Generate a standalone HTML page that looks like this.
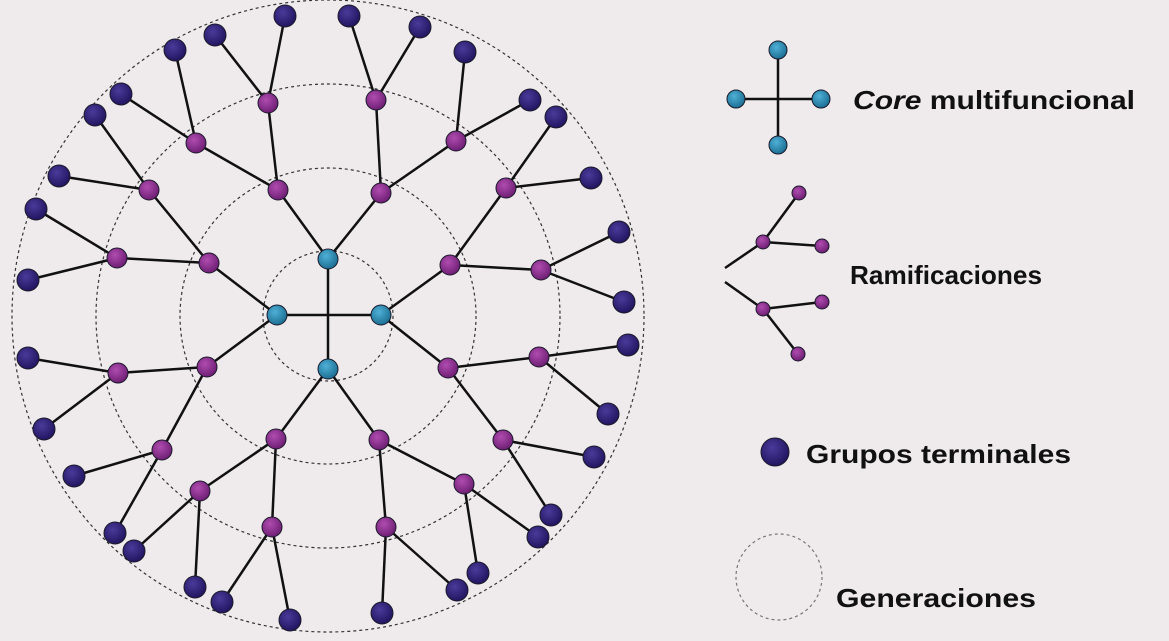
<!DOCTYPE html>
<html><head><meta charset="utf-8"><style>
html,body{margin:0;padding:0;background:#efebed;}
svg{display:block}
text{font-family:"Liberation Sans",Arial,sans-serif;font-weight:bold;fill:#111;}
</style></head><body>
<svg width="1169" height="641" viewBox="0 0 1169 641" xmlns="http://www.w3.org/2000/svg">
<defs>
<radialGradient id="gb" cx="40%" cy="35%" r="65%"><stop offset="0" stop-color="#4fb0d6"/><stop offset="1" stop-color="#1d6f94"/></radialGradient>
<radialGradient id="gp" cx="40%" cy="35%" r="65%"><stop offset="0" stop-color="#b04cb0"/><stop offset="1" stop-color="#6e1f74"/></radialGradient>
<radialGradient id="gd" cx="40%" cy="35%" r="65%"><stop offset="0" stop-color="#4a3a9a"/><stop offset="1" stop-color="#221560"/></radialGradient>
</defs>
<g fill="none" stroke="#333" stroke-width="1.2" stroke-dasharray="3,3">
<circle cx="328" cy="316" r="65"/>
<circle cx="328" cy="316" r="148"/>
<circle cx="328" cy="316" r="232"/>
<circle cx="328" cy="316" r="316"/>
<circle cx="779" cy="577" r="43" stroke="#777"/>
</g>
<g stroke="#111" stroke-width="2.5" fill="none">
<path d="M328 259L328 369M277 315L381 315"/>
<path d="M328 259L278 190M328 259L381 193M381 315L450 265M381 315L448 368M328 369L379 440M328 369L276 439M277 315L207 367M277 315L209 263"/>
<path d="M278 190L268 103M278 190L196 143M381 193L376 100M381 193L456 141M450 265L506 188M450 265L541 270M448 368L539 357M448 368L503 440M379 440L464 484M379 440L386 527M276 439L272 527M276 439L200 491M207 367L162 450M207 367L118 373M209 263L117 258M209 263L149 190"/>
<path d="M268 103L215 35M268 103L285 16M376 100L349 16M376 100L420 27M456 141L465 52M456 141L530 100M506 188L556 117M506 188L591 178M541 270L619 232M541 270L624 302M539 357L628 345M539 357L608 414M503 440L594 457M503 440L551 515M464 484L538 537M464 484L478 573M386 527L457 590M386 527L382 613M272 527L290 620M272 527L222 602M200 491L195 587M200 491L134 551M162 450L115 533M162 450L74 476M118 373L44 429M118 373L28 358M117 258L28 280M117 258L36 209M149 190L59 176M149 190L95 115M196 143L121 94M196 143L175 50"/>
<path d="M778 50L778 145M736 99L821 99"/>
<path d="M725 268L763 242M725 282L763 309M763 242L799 193M763 242L822 246M763 309L822 302M763 309L798 354"/>
</g>
<g stroke="#1a1a2a" stroke-width="1">
<g fill="url(#gb)">
<circle cx="328" cy="259" r="10"/><circle cx="277" cy="315" r="10"/><circle cx="381" cy="315" r="10"/><circle cx="328" cy="369" r="10"/>
<circle cx="778" cy="50" r="9"/><circle cx="736" cy="99" r="9"/><circle cx="821" cy="99" r="9"/><circle cx="778" cy="145" r="9"/>
</g>
<g fill="url(#gp)">
<circle cx="278" cy="190" r="10"/><circle cx="381" cy="193" r="10"/><circle cx="450" cy="265" r="10"/><circle cx="448" cy="368" r="10"/><circle cx="379" cy="440" r="10"/><circle cx="276" cy="439" r="10"/><circle cx="207" cy="367" r="10"/><circle cx="209" cy="263" r="10"/>
<circle cx="268" cy="103" r="10"/><circle cx="376" cy="100" r="10"/><circle cx="456" cy="141" r="10"/><circle cx="506" cy="188" r="10"/><circle cx="541" cy="270" r="10"/><circle cx="539" cy="357" r="10"/><circle cx="503" cy="440" r="10"/><circle cx="464" cy="484" r="10"/><circle cx="386" cy="527" r="10"/><circle cx="272" cy="527" r="10"/><circle cx="200" cy="491" r="10"/><circle cx="162" cy="450" r="10"/><circle cx="118" cy="373" r="10"/><circle cx="117" cy="258" r="10"/><circle cx="149" cy="190" r="10"/><circle cx="196" cy="143" r="10"/>
<circle cx="763" cy="242" r="7"/><circle cx="763" cy="309" r="7"/><circle cx="799" cy="193" r="7"/><circle cx="822" cy="246" r="7"/><circle cx="822" cy="302" r="7"/><circle cx="798" cy="354" r="7"/>
</g>
<g fill="url(#gd)">
<circle cx="175" cy="50" r="11"/><circle cx="215" cy="35" r="11"/><circle cx="285" cy="16" r="11"/><circle cx="349" cy="16" r="11"/><circle cx="420" cy="27" r="11"/><circle cx="465" cy="52" r="11"/><circle cx="530" cy="100" r="11"/><circle cx="556" cy="117" r="11"/><circle cx="591" cy="178" r="11"/><circle cx="619" cy="232" r="11"/><circle cx="624" cy="302" r="11"/><circle cx="628" cy="345" r="11"/><circle cx="608" cy="414" r="11"/><circle cx="594" cy="457" r="11"/><circle cx="551" cy="515" r="11"/><circle cx="538" cy="537" r="11"/><circle cx="478" cy="573" r="11"/><circle cx="457" cy="590" r="11"/><circle cx="382" cy="613" r="11"/><circle cx="290" cy="620" r="11"/><circle cx="222" cy="602" r="11"/><circle cx="195" cy="587" r="11"/><circle cx="134" cy="551" r="11"/><circle cx="115" cy="533" r="11"/><circle cx="74" cy="476" r="11"/><circle cx="44" cy="429" r="11"/><circle cx="28" cy="358" r="11"/><circle cx="28" cy="280" r="11"/><circle cx="36" cy="209" r="11"/><circle cx="59" cy="176" r="11"/><circle cx="95" cy="115" r="11"/><circle cx="121" cy="94" r="11"/>
<circle cx="775" cy="452" r="14"/>
</g>
</g>
<text x="853" y="109" font-size="26" textLength="282" lengthAdjust="spacingAndGlyphs"><tspan font-style="italic">Core</tspan> multifuncional</text>
<text x="850" y="284" font-size="26" textLength="192" lengthAdjust="spacingAndGlyphs">Ramificaciones</text>
<text x="806" y="463" font-size="26" textLength="265" lengthAdjust="spacingAndGlyphs">Grupos terminales</text>
<text x="836" y="607" font-size="26" textLength="200" lengthAdjust="spacingAndGlyphs">Generaciones</text>
</svg>
</body></html>
